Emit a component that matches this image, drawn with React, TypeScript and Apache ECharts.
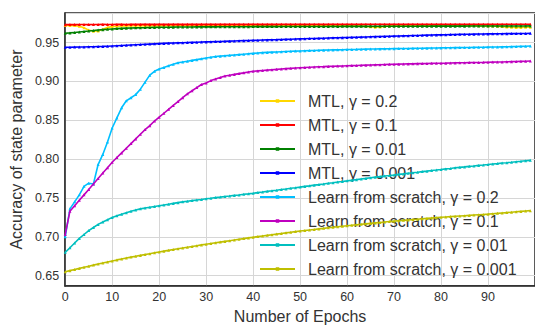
import React, { useEffect, useRef } from "react";
import * as echarts from "echarts";

const epochs: number[] = Array.from({ length: 100 }, (_, i) => i);

const seriesNames = [
  "MTL, γ = 0.2",
  "MTL, γ = 0.1",
  "MTL, γ = 0.01",
  "MTL, γ = 0.001",
  "Learn from scratch, γ = 0.2",
  "Learn from scratch, γ = 0.1",
  "Learn from scratch, γ = 0.01",
  "Learn from scratch, γ = 0.001",
];

const seriesColors = [
  "#ffd700",
  "#ff0000",
  "#008000",
  "#0000ff",
  "#00bfff",
  "#bf00bf",
  "#00bfbf",
  "#bfbf00",
];

const mtl02 = [
  0.972, 0.972, 0.9718, 0.971, 0.969, 0.966, 0.9645, 0.9648, 0.967, 0.9695,
  0.9705, 0.971, 0.9712, 0.9714, 0.9715, 0.9716, 0.9716, 0.9717, 0.9717, 0.9718,
  0.9718, 0.9718, 0.9719, 0.9719, 0.972, 0.972, 0.972, 0.9719, 0.972, 0.972,
  0.972, 0.972, 0.9721, 0.9721, 0.972, 0.9721, 0.9721, 0.9721, 0.9722, 0.9722,
  0.9722, 0.9721, 0.9722, 0.9722, 0.9722, 0.9721, 0.9722, 0.9722, 0.9722, 0.9721,
  0.972, 0.9721, 0.9721, 0.972, 0.972, 0.9721, 0.972, 0.972, 0.9719, 0.972,
  0.972, 0.9719, 0.9718, 0.9715, 0.971, 0.9702, 0.9698, 0.97, 0.9708, 0.9714,
  0.9716, 0.9717, 0.9718, 0.9718, 0.9719, 0.9719, 0.972, 0.972, 0.972, 0.9719,
  0.9719, 0.972, 0.972, 0.972, 0.9719, 0.9719, 0.9718, 0.9718, 0.9717, 0.9716,
  0.9714, 0.9712, 0.971, 0.9705, 0.97, 0.9697, 0.9695, 0.9695, 0.9696, 0.9697,
];

const mtl01 = [
  0.973, 0.9731, 0.9731, 0.9732, 0.9732, 0.9731, 0.9732, 0.9732, 0.9733, 0.9732,
  0.9732, 0.9733, 0.9733, 0.9732, 0.9733, 0.9733, 0.9733, 0.9734, 0.9733, 0.9733,
  0.9734, 0.9733, 0.9733, 0.9734, 0.9734, 0.9733, 0.9734, 0.9734, 0.9733, 0.9734,
  0.9734, 0.9734, 0.9733, 0.9734, 0.9734, 0.9734, 0.9735, 0.9734, 0.9734, 0.9734,
  0.9735, 0.9734, 0.9734, 0.9735, 0.9734, 0.9734, 0.9735, 0.9735, 0.9734, 0.9735,
  0.9735, 0.9734, 0.9735, 0.9735, 0.9735, 0.9734, 0.9735, 0.9735, 0.9735, 0.9735,
  0.9736, 0.9735, 0.9735, 0.9735, 0.9736, 0.9735, 0.9735, 0.9736, 0.9735, 0.9736,
  0.9736, 0.9735, 0.9736, 0.9736, 0.9735, 0.9736, 0.9736, 0.9736, 0.9735, 0.9736,
  0.9736, 0.9736, 0.9736, 0.9735, 0.9736, 0.9736, 0.9736, 0.9736, 0.9736, 0.9735,
  0.9736, 0.9736, 0.9736, 0.9736, 0.9736, 0.9736, 0.9735, 0.9736, 0.9736, 0.9736,
];

const mtl001 = [
  0.962, 0.9624, 0.963, 0.9636, 0.9642, 0.9648, 0.9655, 0.9661, 0.9666, 0.9671,
  0.9675, 0.9679, 0.9682, 0.9685, 0.9687, 0.9689, 0.9691, 0.9692, 0.9694, 0.9695,
  0.9696, 0.9697, 0.9697, 0.9698, 0.9699, 0.9699, 0.97, 0.97, 0.9701, 0.9701,
  0.9702, 0.9702, 0.9702, 0.9703, 0.9703, 0.9703, 0.9704, 0.9704, 0.9704, 0.9704,
  0.9705, 0.9705, 0.9705, 0.9705, 0.9706, 0.9705, 0.9706, 0.9706, 0.9706, 0.9706,
  0.9706, 0.9707, 0.9706, 0.9707, 0.9707, 0.9707, 0.9707, 0.9708, 0.9707, 0.9708,
  0.9708, 0.9708, 0.9708, 0.9709, 0.9708, 0.9709, 0.9709, 0.9709, 0.9709, 0.971,
  0.9709, 0.971, 0.971, 0.971, 0.971, 0.971, 0.9711, 0.971, 0.9711, 0.9711,
  0.9711, 0.9711, 0.9711, 0.9711, 0.9712, 0.9711, 0.9712, 0.9712, 0.9712, 0.9712,
  0.9712, 0.9712, 0.9713, 0.9712, 0.9713, 0.9713, 0.9713, 0.9713, 0.9713, 0.9714,
];

const mtl0001 = [
  0.944, 0.944, 0.9441, 0.9442, 0.9443, 0.9445, 0.9446, 0.9448, 0.945, 0.9453,
  0.9456, 0.9459, 0.9462, 0.9465, 0.9468, 0.9471, 0.9474, 0.9477, 0.948, 0.9483,
  0.9486, 0.9489, 0.9492, 0.9494, 0.9496, 0.9498, 0.95, 0.9502, 0.9504, 0.9506,
  0.9508, 0.951, 0.9512, 0.9514, 0.9516, 0.9518, 0.952, 0.9522, 0.9524, 0.9526,
  0.9528, 0.953, 0.9532, 0.9534, 0.9536, 0.9537, 0.9539, 0.9541, 0.9543, 0.9545,
  0.9547, 0.9549, 0.9551, 0.9552, 0.9554, 0.9556, 0.9558, 0.956, 0.9561, 0.9563,
  0.9565, 0.9567, 0.9568, 0.957, 0.9572, 0.9574, 0.9576, 0.9577, 0.9579, 0.9581,
  0.9583, 0.9584, 0.9586, 0.9588, 0.959, 0.9591, 0.9593, 0.9595, 0.9596, 0.9598,
  0.9599, 0.9601, 0.9602, 0.9603, 0.9605, 0.9606, 0.9607, 0.9608, 0.9609, 0.961,
  0.9611, 0.9612, 0.9613, 0.9613, 0.9614, 0.9615, 0.9615, 0.9616, 0.9617, 0.9618,
];

const scratch02 = [
  0.7, 0.736, 0.745, 0.754, 0.765, 0.769, 0.768, 0.793, 0.806, 0.822,
  0.84, 0.853, 0.866, 0.875, 0.879, 0.883, 0.89, 0.899, 0.908, 0.913,
  0.916, 0.918, 0.92, 0.922, 0.924, 0.925, 0.926, 0.927, 0.928, 0.929,
  0.93, 0.931, 0.932, 0.9325, 0.933, 0.9335, 0.934, 0.9345, 0.935, 0.9355,
  0.936, 0.9365, 0.937, 0.9373, 0.9376, 0.9379, 0.9382, 0.9385, 0.9388, 0.939,
  0.9392, 0.9394, 0.9396, 0.9398, 0.94, 0.9402, 0.9403, 0.9405, 0.9406, 0.9408,
  0.941, 0.9411, 0.9412, 0.9414, 0.9415, 0.9416, 0.9417, 0.9418, 0.9419, 0.942,
  0.9421, 0.9422, 0.9423, 0.9424, 0.9425, 0.9426, 0.9427, 0.9428, 0.9429, 0.943,
  0.9431, 0.9432, 0.9433, 0.9434, 0.9435, 0.9436, 0.9437, 0.9438, 0.9439, 0.944,
  0.9441, 0.9442, 0.9443, 0.9444, 0.9445, 0.9447, 0.9449, 0.9451, 0.9453, 0.9455,
];

const scratch01 = [
  0.703, 0.733, 0.74, 0.747, 0.754, 0.761, 0.768, 0.775, 0.782, 0.789,
  0.796, 0.802, 0.808, 0.814, 0.82, 0.826, 0.832, 0.838, 0.843, 0.849,
  0.854, 0.859, 0.864, 0.869, 0.874, 0.879, 0.884, 0.888, 0.892, 0.896,
  0.898, 0.901, 0.903, 0.905, 0.907, 0.908, 0.909, 0.91, 0.911, 0.912,
  0.913, 0.9135, 0.914, 0.9145, 0.915, 0.9155, 0.916, 0.9164, 0.9168, 0.9172,
  0.9176, 0.9179, 0.9182, 0.9185, 0.9188, 0.919, 0.9193, 0.9195, 0.9197, 0.9199,
  0.9201, 0.9203, 0.9205, 0.9207, 0.9209, 0.9211, 0.9213, 0.9215, 0.9217, 0.9219,
  0.922, 0.9222, 0.9223, 0.9225, 0.9226, 0.9228, 0.9229, 0.923, 0.9232, 0.9233,
  0.9234, 0.9235, 0.9237, 0.9238, 0.9239, 0.924, 0.9242, 0.9243, 0.9244, 0.9245,
  0.9247, 0.9248, 0.9249, 0.925, 0.9252, 0.9254, 0.9256, 0.9258, 0.926, 0.9262,
];

const scratch001 = [
  0.68, 0.686, 0.692, 0.698, 0.703, 0.708, 0.712, 0.716, 0.719, 0.722,
  0.725, 0.727, 0.729, 0.731, 0.733, 0.7345, 0.736, 0.737, 0.738, 0.739,
  0.74, 0.741, 0.742, 0.743, 0.744, 0.745, 0.7458, 0.7466, 0.7474, 0.748,
  0.749, 0.7497, 0.7505, 0.7511, 0.7519, 0.7525, 0.7533, 0.7539, 0.7547, 0.7553,
  0.756, 0.7569, 0.7576, 0.7585, 0.7592, 0.76, 0.7609, 0.7616, 0.7625, 0.7632,
  0.764, 0.7649, 0.7656, 0.7665, 0.7672, 0.768, 0.7689, 0.7696, 0.7705, 0.7712,
  0.772, 0.7729, 0.7736, 0.7745, 0.7752, 0.776, 0.7768, 0.7775, 0.7783, 0.7789,
  0.7796, 0.7804, 0.781, 0.7818, 0.7824, 0.7831, 0.7839, 0.7845, 0.7853, 0.7859,
  0.7866, 0.7874, 0.788, 0.7888, 0.7894, 0.79, 0.7907, 0.7912, 0.7919, 0.7924,
  0.793, 0.7937, 0.7942, 0.7949, 0.7954, 0.796, 0.7967, 0.7972, 0.7979, 0.7984,
];

const scratch0001 = [
  0.655, 0.6565, 0.658, 0.6594, 0.6608, 0.6622, 0.6636, 0.665, 0.6664, 0.6677,
  0.669, 0.6703, 0.6715, 0.6727, 0.6739, 0.675, 0.6761, 0.6772, 0.6783, 0.6794,
  0.6805, 0.6816, 0.6826, 0.6836, 0.6846, 0.6856, 0.6866, 0.6876, 0.6886, 0.6896,
  0.6905, 0.6914, 0.6923, 0.6932, 0.6941, 0.695, 0.6959, 0.6968, 0.6977, 0.6986,
  0.6995, 0.7003, 0.7011, 0.7019, 0.7027, 0.7035, 0.7043, 0.7051, 0.7059, 0.7067,
  0.7074, 0.7081, 0.7088, 0.7095, 0.7102, 0.7109, 0.7116, 0.7123, 0.713, 0.7137,
  0.7143, 0.7149, 0.7155, 0.7161, 0.7167, 0.7173, 0.7179, 0.7185, 0.7191, 0.7197,
  0.7202, 0.7207, 0.7212, 0.7217, 0.7222, 0.7227, 0.7232, 0.7237, 0.7242, 0.7247,
  0.7252, 0.7256, 0.726, 0.7264, 0.7268, 0.7272, 0.7276, 0.728, 0.7284, 0.7288,
  0.7292, 0.7297, 0.7302, 0.7307, 0.7312, 0.7317, 0.7322, 0.7327, 0.7332, 0.7337,
];

const seriesValues = [mtl02, mtl01, mtl001, mtl0001, scratch02, scratch01, scratch001, scratch0001];

const FONT = "'Liberation Sans', Arial, sans-serif";
const TEXT = "#333333";
const LEGEND_ICON =
  "path://M0,1L35,1L35,3L0,3Z M15.75,0.25L19.25,0.25L19.25,3.75L15.75,3.75Z M0,0L0.01,0L0.01,4L0,4Z";

export default function App() {
  const ref = useRef<HTMLDivElement>(null);
  useEffect(() => {
    if (!ref.current) return;
    const chart = echarts.init(ref.current, undefined, { renderer: "svg" });
    chart.setOption({
      animation: false,
      backgroundColor: "#ffffff",
      textStyle: { fontFamily: FONT },
      grid: {
        left: 63,
        top: 13,
        width: 475,
        bottom: 35,
        show: true,
        borderColor: "#262626",
        borderWidth: 1.5,
        backgroundColor: "#ffffff",
      },
      legend: {
        orient: "vertical",
        left: 255,
        top: 88,
        itemWidth: 35,
        itemHeight: 4,
        itemGap: 8,
        selectedMode: false,
        icon: LEGEND_ICON,
        data: seriesNames,
        textStyle: {
          fontFamily: FONT,
          fontSize: 16,
          color: TEXT,
          lineHeight: 16,
          padding: [0, 0, 0, 8],
        },
      },
      xAxis: {
        type: "value",
        min: 0,
        max: 100,
        interval: 10,
        name: "Number of Epochs",
        nameLocation: "middle",
        nameGap: 18,
        nameTextStyle: { fontFamily: FONT, fontSize: 16, color: TEXT },
        axisLine: { show: true, lineStyle: { color: "#262626", width: 1.5 } },
        axisTick: { show: false },
        axisLabel: {
          fontFamily: FONT,
          fontSize: 12.5,
          color: TEXT,
          margin: 4,
          showMaxLabel: false,
          formatter: (v: number) => (v >= 100 ? "" : String(v)),
        },
        splitLine: { show: true, lineStyle: { color: "#d6d6d6", width: 1 } },
      },
      yAxis: {
        type: "value",
        min: 0.6366,
        max: 0.988,
        splitNumber: 7,
        name: "Accuracy of state parameter",
        nameLocation: "middle",
        nameGap: 35,
        nameTextStyle: { fontFamily: FONT, fontSize: 16, color: TEXT },
        axisLine: { show: true, lineStyle: { color: "#262626", width: 1.5 } },
        axisTick: { show: false },
        axisLabel: {
          fontFamily: FONT,
          fontSize: 12.5,
          color: TEXT,
          margin: 6,
          showMinLabel: false,
          showMaxLabel: false,
          formatter: (v: number) => v.toFixed(2),
        },
        splitLine: { show: true, lineStyle: { color: "#d6d6d6", width: 1 } },
      },
      series: seriesNames.map((name, k) => ({
        name,
        type: "line",
        data: epochs.map((e, i) => [e, seriesValues[k][i]]),
        symbol: "triangle",
        symbolSize: 3,
        showSymbol: true,
        lineStyle: { color: seriesColors[k], width: 1.6 },
        itemStyle: { color: seriesColors[k] },
        emphasis: { disabled: true },
        z: 2 + k,
      })),
    });
    return () => chart.dispose();
  }, []);
  return (
    <div
      ref={ref}
      style={{ position: "fixed", left: 0, top: 0, width: 535, height: 329 }}
    />
  );
}
